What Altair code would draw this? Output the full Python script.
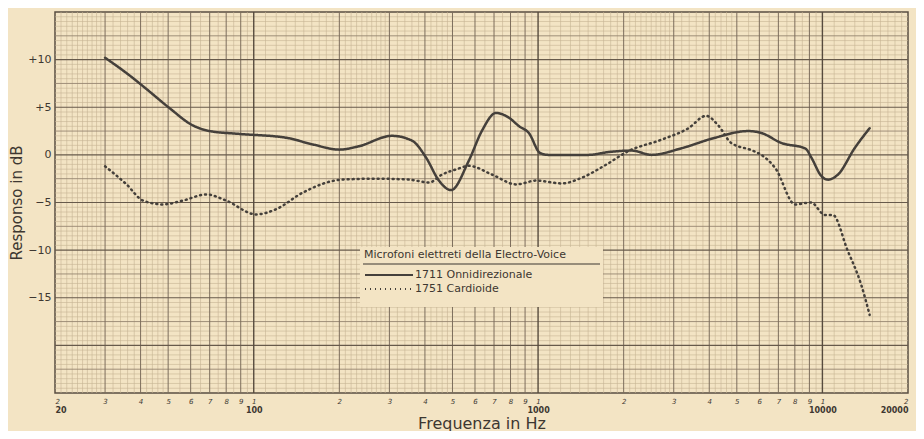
import altair as alt
import pandas as pd
import numpy as np

# ---- data ----
omni_freq = [30, 36, 42, 50.6, 61, 70, 89, 130, 161, 200, 234, 306, 360, 404, 448, 494,
             571, 634, 711, 790, 858, 928, 1016, 1084, 1506, 1772, 2134, 2510, 3200, 4192,
             5480, 6100, 7170, 8720, 9150, 9900, 10470, 11350, 12980, 14660]
omni_db = [10.2, 8.5, 6.9, 4.9, 3.1, 2.5, 2.2, 1.8, 1.1, 0.55, 0.9, 2.0, 1.5, -0.3, -2.7, -3.7,
           -0.6, 2.5, 4.4, 3.9, 3.0, 2.3, 0.2, 0.0, 0.0, 0.3, 0.45, 0.0, 0.7, 1.8,
           2.5, 2.3, 1.25, 0.66, -0.3, -2.2, -2.6, -2.06, 0.7, 2.8]

card_freq = [30, 35.7, 40.8, 47.9, 56.3, 68.2, 80, 102, 120, 148, 204, 270, 352, 414, 460,
             518, 571, 688, 838, 985, 1212, 1424, 1730, 2080, 2720, 3380, 3900, 4300, 4780,
             5620, 6100, 6830, 8020, 9120, 10200, 10870, 12250, 13680, 14660]
card_db = [-1.2, -3.1, -4.8, -5.2, -4.8, -4.15, -4.8, -6.25, -5.7, -4.0, -2.6, -2.5, -2.6, -2.9,
           -2.06, -1.5, -1.15, -2.06, -3.1, -2.7, -3.0, -2.4, -1.05, 0.4, 1.6, 2.8, 4.1, 3.1,
           1.25, 0.5, 0.0, -1.4, -5.2, -5.0, -6.3, -6.3, -10.0, -13.6, -16.8]

series_names = ["1711 Onnidirezionale", "1751 Cardioide"]
legend_title = "Microfoni elettreti della Electro-Voice"

y_tick_values = [-15, -10, -5, 0, 5, 10]
decade_labels = [20, 100, 1000, 10000, 20000]

# ---- styling ----
PAPER = "#f3e4c4"
INK = "#3d3731"
CURVE = "#45403b"
FONT = "DejaVu Sans"

curves = pd.concat([
    pd.DataFrame({"f": omni_freq, "db": omni_db, "serie": series_names[0]}),
    pd.DataFrame({"f": card_freq, "db": card_db, "serie": series_names[1]}),
])

x_scale = alt.Scale(type="log", domain=[20, 20000], nice=False)
y_scale = alt.Scale(domain=[-25, 15], nice=False)

# graph-paper grid positions
major_x, minor_x = [], []
for d in [10, 100, 1000, 10000]:
    for k in range(1, 10):
        v = k * d
        if 20 <= v <= 20000:
            major_x.append(v)
    for a, b, s in [(1, 2, 0.1), (2, 3, 0.1), (3, 5, 0.2), (5, 10, 0.5)]:
        for m in np.arange(a + s, b - 1e-9, s):
            if abs(m - round(m)) < 1e-6:
                continue
            v = round(m * d, 6)
            if 20 < v < 20000:
                minor_x.append(v)
digit_ticks = major_x

minor_y = [v for v in np.arange(-25, 15.01, 0.5) if abs(v / 2.5 - round(v / 2.5)) > 1e-6]
mid_y = [v for v in np.arange(-22.5, 15, 5.0)]
major_y = [v for v in np.arange(-20, 15, 5.0)]

def vrules(vals, color, w):
    return alt.Chart(pd.DataFrame({"f": vals})).mark_rule(color=color, strokeWidth=w).encode(
        x=alt.X("f:Q", scale=x_scale, axis=None))

def hrules(vals, color, w):
    return alt.Chart(pd.DataFrame({"db": vals})).mark_rule(color=color, strokeWidth=w).encode(
        y=alt.Y("db:Q", scale=y_scale, axis=None))

grid = [
    vrules(minor_x, "#c6b393", 0.6),
    hrules(minor_y, "#c6b393", 0.6),
    hrules(mid_y, "#968670", 0.9),
    vrules([v for v in major_x if v not in decade_labels], "#7c6d5c", 1.0),
    hrules(major_y, "#675a4b", 1.2),
    vrules([100, 1000, 10000], "#574b3e", 1.4),
]

legend_box = alt.Chart(pd.DataFrame({"a": [0]})).mark_rect(color=PAPER).encode(
    x=alt.value(305), x2=alt.value(548), y=alt.value(235), y2=alt.value(295))
underline = alt.Chart(pd.DataFrame({"a": [0]})).mark_rule(color=INK, strokeWidth=1.2).encode(
    x=alt.value(308), x2=alt.value(545), y=alt.value(252))

lines = alt.Chart(curves).mark_line(interpolate="monotone", strokeWidth=2.5,
                                    strokeCap="round", color=CURVE).encode(
    x=alt.X("f:Q", scale=x_scale,
            axis=alt.Axis(values=digit_ticks, labelExpr="substring('' + datum.value, 0, 1)",
                          orient="bottom", title=None, ticks=False, domain=False, grid=False,
                          labelFontSize=7, labelFontStyle="italic", labelFont=FONT,
                          labelColor=INK, labelPadding=4, labelOverlap=False)),
    y=alt.Y("db:Q", scale=y_scale,
            axis=alt.Axis(values=y_tick_values, orient="left",
                          labelExpr="datum.value > 0 ? '+' + datum.label : datum.label",
                          title="Responso in dB", titleFont=FONT, titleFontSize=15,
                          titleFontWeight="normal", titleColor=INK, titlePadding=3,
                          labelFont=FONT, labelFontSize=11, labelColor=INK, labelPadding=4,
                          ticks=False, domain=False, grid=False)),
    strokeDash=alt.StrokeDash("serie:N",
                              scale=alt.Scale(domain=series_names, range=[[1, 0], [1, 4]]),
                              legend=alt.Legend(title=legend_title, orient="none",
                                                legendX=309, legendY=237,
                                                titleFont=FONT, titleFontSize=11,
                                                titleFontWeight="normal", titleColor=INK,
                                                titlePadding=8, titleLimit=400,
                                                labelFont=FONT, labelFontSize=11,
                                                labelColor=INK, labelOffset=37, labelLimit=400,
                                                symbolType="M-1,0H7", symbolSize=144,
                                                symbolStrokeColor=CURVE, symbolStrokeWidth=2,
                                                rowPadding=2, padding=0)),
)

decade_axis = alt.Chart(pd.DataFrame({"f": decade_labels})).mark_rule(opacity=0).encode(
    x=alt.X("f:Q", scale=x_scale,
            axis=alt.Axis(values=decade_labels, format="d", title="Frequenza in Hz",
                          orient="bottom",
                          titleFont=FONT, titleFontSize=16, titleFontWeight="normal",
                          titleColor=INK, titlePadding=1,
                          labelFont=FONT, labelFontSize=8, labelFontWeight="bold",
                          labelColor=INK, labelPadding=13, labelOverlap=False,
                          labelFlush=True, labelBound=False,
                          ticks=False, domain=False, grid=False)))

chart = alt.layer(*grid, legend_box, underline, lines, decade_axis).resolve_axis(
    x="independent", y="independent").properties(
    width=853, height=381,
    padding={"left": 47, "top": 4, "right": 8, "bottom": 38},
    autosize=alt.AutoSizeParams(type="none"),
    background=PAPER,
).configure_view(stroke="#5a4e41", strokeWidth=1.5)

chart.save("out.html", embed_options={"renderer": "svg", "actions": False})
